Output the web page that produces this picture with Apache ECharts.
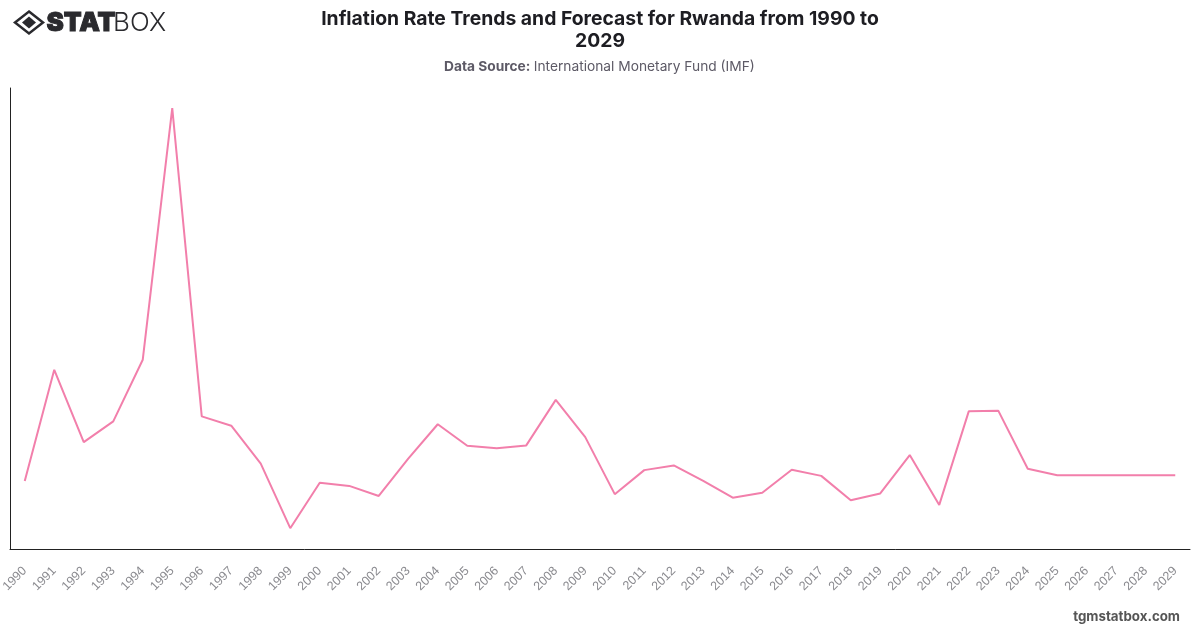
<!DOCTYPE html>
<html>
<head>
<meta charset="utf-8">
<style>html,body{margin:0;padding:0;background:#fff}#chart{width:1200px;height:628px}</style>
<script src="https://cdn.jsdelivr.net/npm/echarts@6/dist/echarts.min.js"></script>
</head>
<body>
<div id="chart"></div>
<script>
// Rwanda inflation, annual percent change (2025 onward is forecast)
const years = ['1990','1991','1992','1993','1994','1995','1996','1997','1998','1999',
  '2000','2001','2002','2003','2004','2005','2006','2007','2008','2009',
  '2010','2011','2012','2013','2014','2015','2016','2017','2018','2019',
  '2020','2021','2022','2023','2024','2025','2026','2027','2028','2029'];
const inflation = [4.2,19.7,9.6,12.5,21.1,56.2,13.2,11.9,6.6,-2.4,
  3.95,3.5,2.1,7.3,12.1,9.1,8.75,9.15,15.5,10.3,
  2.35,5.7,6.35,4.2,1.85,2.55,5.75,4.9,1.5,2.45,
  7.8,0.85,13.9,14.0,5.9,5.0,5.0,5.0,5.0,5.0];

const chart = echarts.init(document.getElementById('chart'), null, {renderer: 'canvas'});
chart.setOption({
  animation: false,
  backgroundColor: '#fff',
  grid: {left: 10, right: 10, top: 88, bottom: 79, containLabel: false, outerBoundsMode: 'none'},
  title: [
    {text: 'Inflation Rate Trends and Forecast for Rwanda from 1990 to', left: 595, top: 5, textAlign: 'center',
     textStyle: {fontFamily: 'Inter', fontSize: 19.35, fontWeight: 700, color: '#1d1d22'}},
    {text: '2029', left: 595, top: 27, textAlign: 'center',
     textStyle: {fontFamily: 'Inter', fontSize: 19.35, fontWeight: 700, color: '#1d1d22'}}
  ],
  xAxis: {
    type: 'category', data: years, boundaryGap: true,
    axisLine: {show: true, onZero: false, lineStyle: {color: '#222', width: 1}},
    axisTick: {show: false},
    splitLine: {show: false},
    axisLabel: {interval: 0, rotate: 45, margin: 20, fontFamily: 'Liberation Sans', fontSize: 12.5, color: '#8a8a8f'}
  },
  yAxis: {
    type: 'value', min: -5.3, max: 59,
    axisLine: {show: true, lineStyle: {color: '#222', width: 1}},
    axisTick: {show: false}, axisLabel: {show: false}, splitLine: {show: false}
  },
  series: [{
    type: 'line', data: inflation, showSymbol: false, smooth: false,
    lineStyle: {color: '#f27fab', width: 2}
  }],
  graphic: [
    {type: 'polygon', shape: {points: [[29,11.5],[43,22.5],[29,33.5],[15,22.5]]}, style: {fill: 'none', stroke: '#2a2a2e', lineWidth: 2.5}},
    {type: 'polygon', shape: {points: [[29,16.5],[36,22.5],[29,28.5],[22,22.5]]}, style: {fill: '#2a2a2e'}},
    {type: 'text', left: 46, top: 10, style: {text: 'STAT', fontFamily: 'Inter', fontSize: 26, fontWeight: 900, fill: '#2a2a2e', stroke: '#2a2a2e', lineWidth: 1}},
    {type: 'text', left: 113, top: 10, style: {text: 'BOX', fontFamily: 'Inter', fontSize: 26, fontWeight: 300, fill: '#2a2a2e'}},
    {type: 'text', left: 444, top: 60, style: {
      rich: {b: {fontFamily: 'Inter', fontSize: 13.75, fontWeight: 700, fill: '#5d5a66'}, r: {fontFamily: 'Inter', fontSize: 13.75, fill: '#5d5a66'}},
      text: '{b|Data Source:} {r|International Monetary Fund (IMF)}'
    }},
    {type: 'text', right: 20, top: 610, style: {text: 'tgmstatbox.com', fontFamily: 'Inter', fontSize: 13.3, fontWeight: 700, fill: '#555'}}
  ]
});
</script>
</body>
</html>
